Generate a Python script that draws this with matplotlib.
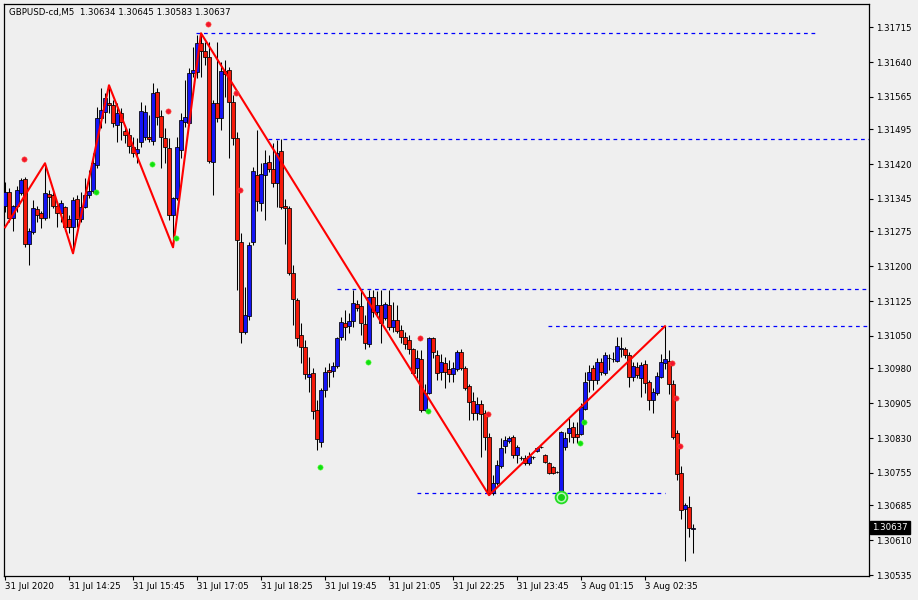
import matplotlib
matplotlib.use("Agg")
import matplotlib.pyplot as plt
import matplotlib.transforms as mtransforms
import numpy as np

# GBPUSD-cd M5 bars
opens = [
    1.31329, 1.31360, 1.31305, 1.31329, 1.31358, 1.31388, 1.31249, 1.31273, 1.31323, 1.31314,
    1.31305, 1.31356, 1.31353, 1.31329, 1.31314, 1.31327, 1.31301, 1.31284, 1.31345, 1.31303,
    1.31327, 1.31353, 1.31362, 1.31418, 1.31519, 1.31532, 1.31551, 1.31547, 1.31504, 1.31530,
    1.31491, 1.31483, 1.31457, 1.31444, 1.31468, 1.31478, 1.31478, 1.31470, 1.31575, 1.31524,
    1.31476, 1.31455, 1.31310, 1.31347, 1.31450, 1.31511, 1.31508, 1.31616, 1.31618, 1.31680,
    1.31663, 1.31650, 1.31425, 1.31551, 1.31519, 1.31620, 1.31622, 1.31554, 1.31476, 1.31252,
    1.31058, 1.31093, 1.31252, 1.31396, 1.31336, 1.31396, 1.31425, 1.31409, 1.31379, 1.31448,
    1.31329, 1.31325, 1.31185, 1.31127, 1.31052, 1.31026, 1.30961, 1.30970, 1.30890, 1.30822,
    1.30933, 1.30976, 1.30974, 1.30985, 1.31047, 1.31078, 1.31071, 1.31082, 1.31118, 1.31114,
    1.31075, 1.31032, 1.31135, 1.31101, 1.31116, 1.31088, 1.31116, 1.31069, 1.31084, 1.31062,
    1.31047, 1.31041, 1.31022, 1.30981, 1.31000, 1.30890, 1.30927, 1.31045, 1.31009, 1.30972,
    1.30991, 1.30979, 1.30968, 1.30979, 1.31016, 1.30981, 1.30942, 1.30910, 1.30884, 1.30903,
    1.30884, 1.30832, 1.30712, 1.30733, 1.30770, 1.30813, 1.30824, 1.30832, 1.30794, 1.30787,
    1.30787, 1.30776, 1.30789, 1.30802, 1.30811, 1.30794, 1.30776, 1.30768, 1.30757, 1.30714,
    1.30811, 1.30841, 1.30854, 1.30839, 1.30839, 1.30893, 1.30955, 1.30981, 1.30955, 1.30993,
    1.30970, 1.31002, 1.31000, 1.30996, 1.31022, 1.31022, 1.31009, 1.30961, 1.30983, 1.30959,
    1.30989, 1.30950, 1.30912, 1.30927, 1.30961, 1.30991, 1.30996, 1.30946, 1.30841, 1.30755,
    1.30677, 1.30681, 1.30634,
]
highs = [
    1.31381, 1.31368, 1.31333, 1.31373, 1.31390, 1.31392, 1.31282, 1.31342, 1.31331, 1.31320,
    1.31422, 1.31364, 1.31360, 1.31338, 1.31342, 1.31331, 1.31310, 1.31349, 1.31353, 1.31360,
    1.31390, 1.31407, 1.31444, 1.31543, 1.31584, 1.31573, 1.31590, 1.31558, 1.31551, 1.31541,
    1.31504, 1.31498, 1.31478, 1.31476, 1.31554, 1.31547, 1.31526, 1.31594, 1.31584, 1.31536,
    1.31498, 1.31476, 1.31349, 1.31478, 1.31530, 1.31601, 1.31627, 1.31672, 1.31698, 1.31702,
    1.31683, 1.31683, 1.31558, 1.31683, 1.31640, 1.31644, 1.31629, 1.31568, 1.31489, 1.31271,
    1.31155, 1.31252, 1.31414, 1.31493, 1.31422, 1.31450, 1.31440, 1.31465, 1.31472, 1.31474,
    1.31345, 1.31329, 1.31202, 1.31131, 1.31078, 1.31041, 1.31004, 1.30981, 1.30912, 1.30937,
    1.30983, 1.30991, 1.30993, 1.31047, 1.31090, 1.31106, 1.31099, 1.31149, 1.31127, 1.31149,
    1.31095, 1.31149, 1.31149, 1.31146, 1.31149, 1.31123, 1.31149, 1.31123, 1.31116, 1.31073,
    1.31058, 1.31052, 1.31024, 1.31019, 1.31019, 1.30946, 1.31047, 1.31047, 1.31019, 1.31012,
    1.31004, 1.30998, 1.30993, 1.31019, 1.31022, 1.30985, 1.30946, 1.30929, 1.30918, 1.30912,
    1.30890, 1.30841, 1.30750, 1.30783, 1.30830, 1.30835, 1.30835, 1.30837, 1.30815, 1.30791,
    1.30794, 1.30800, 1.30791, 1.30811, 1.30813, 1.30796, 1.30778, 1.30770, 1.30759, 1.30845,
    1.30843, 1.30873, 1.30865, 1.30865, 1.30905, 1.30972, 1.30987, 1.30987, 1.31002, 1.31002,
    1.31016, 1.31012, 1.31016, 1.31047, 1.31047, 1.31026, 1.31016, 1.30993, 1.30993, 1.30993,
    1.30998, 1.30955, 1.30937, 1.30972, 1.31012, 1.31071, 1.31019, 1.30955, 1.30847, 1.30770,
    1.30690, 1.30705, 1.30645,
]
lows = [
    1.31316, 1.31295, 1.31277, 1.31316, 1.31353, 1.31241, 1.31202, 1.31269, 1.31295, 1.31282,
    1.31299, 1.31305, 1.31325, 1.31284, 1.31295, 1.31277, 1.31271, 1.31228, 1.31284, 1.31295,
    1.31325, 1.31347, 1.31358, 1.31412, 1.31498, 1.31508, 1.31530, 1.31500, 1.31468, 1.31472,
    1.31465, 1.31444, 1.31435, 1.31422, 1.31457, 1.31472, 1.31468, 1.31461, 1.31504, 1.31412,
    1.31422, 1.31299, 1.31241, 1.31342, 1.31433, 1.31500, 1.31504, 1.31607, 1.31605, 1.31607,
    1.31633, 1.31422, 1.31353, 1.31511, 1.31493, 1.31564, 1.31433, 1.31461, 1.31149, 1.31034,
    1.31054, 1.31084, 1.31247, 1.31320, 1.31320, 1.31299, 1.31403, 1.31371, 1.31327, 1.31323,
    1.31249, 1.31181, 1.31073, 1.31029, 1.30991, 1.30957, 1.30929, 1.30871, 1.30804, 1.30811,
    1.30918, 1.30940, 1.30961, 1.30981, 1.31041, 1.31041, 1.31056, 1.31069, 1.31103, 1.31052,
    1.31022, 1.31026, 1.31090, 1.31090, 1.31034, 1.31084, 1.31062, 1.31058, 1.31056, 1.31034,
    1.31022, 1.31011, 1.30968, 1.30959, 1.30886, 1.30888, 1.30925, 1.31002, 1.30955, 1.30955,
    1.30937, 1.30950, 1.30950, 1.30974, 1.30976, 1.30933, 1.30869, 1.30869, 1.30869, 1.30789,
    1.30804, 1.30707, 1.30707, 1.30729, 1.30766, 1.30798, 1.30819, 1.30787, 1.30776, 1.30783,
    1.30772, 1.30772, 1.30785, 1.30800, 1.30809, 1.30776, 1.30753, 1.30753, 1.30755, 1.30707,
    1.30804, 1.30822, 1.30819, 1.30819, 1.30837, 1.30890, 1.30929, 1.30933, 1.30946, 1.30965,
    1.30965, 1.30976, 1.30993, 1.30993, 1.31004, 1.31002, 1.30940, 1.30953, 1.30959, 1.30918,
    1.30927, 1.30890, 1.30884, 1.30923, 1.30959, 1.30979, 1.30925, 1.30828, 1.30740, 1.30655,
    1.30565, 1.30616, 1.30583,
]
closes = [
    1.31360, 1.31305, 1.31329, 1.31364, 1.31386, 1.31249, 1.31275, 1.31325, 1.31310, 1.31305,
    1.31358, 1.31349, 1.31331, 1.31314, 1.31336, 1.31284, 1.31284, 1.31342, 1.31303, 1.31327,
    1.31353, 1.31362, 1.31422, 1.31519, 1.31536, 1.31562, 1.31547, 1.31508, 1.31530, 1.31511,
    1.31483, 1.31459, 1.31444, 1.31453, 1.31534, 1.31532, 1.31474, 1.31573, 1.31521, 1.31478,
    1.31457, 1.31310, 1.31347, 1.31457, 1.31515, 1.31521, 1.31616, 1.31622, 1.31680, 1.31663,
    1.31650, 1.31427, 1.31551, 1.31519, 1.31620, 1.31614, 1.31554, 1.31476, 1.31256, 1.31058,
    1.31095, 1.31245, 1.31405, 1.31340, 1.31399, 1.31422, 1.31409, 1.31379, 1.31444, 1.31327,
    1.31325, 1.31185, 1.31129, 1.31045, 1.31026, 1.30968, 1.30968, 1.30888, 1.30828, 1.30933,
    1.30972, 1.30972, 1.30985, 1.31045, 1.31080, 1.31069, 1.31082, 1.31121, 1.31110, 1.31078,
    1.31034, 1.31135, 1.31101, 1.31116, 1.31078, 1.31118, 1.31069, 1.31084, 1.31060, 1.31047,
    1.31032, 1.31022, 1.30970, 1.31002, 1.30890, 1.30927, 1.31045, 1.31016, 1.30970, 1.30993,
    1.30972, 1.30968, 1.30981, 1.31016, 1.30981, 1.30937, 1.30908, 1.30884, 1.30903, 1.30882,
    1.30832, 1.30712, 1.30733, 1.30772, 1.30809, 1.30826, 1.30830, 1.30794, 1.30811, 1.30787,
    1.30776, 1.30791, 1.30789, 1.30809, 1.30811, 1.30778, 1.30755, 1.30755, 1.30757, 1.30843,
    1.30830, 1.30852, 1.30832, 1.30832, 1.30897, 1.30950, 1.30972, 1.30955, 1.30993, 1.30972,
    1.31009, 1.31002, 1.31000, 1.31028, 1.31024, 1.31009, 1.30961, 1.30985, 1.30965, 1.30987,
    1.30948, 1.30912, 1.30929, 1.30963, 1.30993, 1.31000, 1.30946, 1.30832, 1.30753, 1.30675,
    1.30685, 1.30636, 1.30637,
]

# zigzag turning points (bar, price)
zz_bars = [0, 10, 17, 26, 42, 49, 121, 165]
zz_prices = [1.31284, 1.31422, 1.31228, 1.31590, 1.31241, 1.31702, 1.30707, 1.31071]

# horizontal levels: price, first bar, last bar
level_prices = [1.31702, 1.31474, 1.31151, 1.31071, 1.30712]
level_start = [47.75, 65.75, 83, 135.75, 103]
level_end = [202.5, 216, 216, 216, 165]

# signal dots
red_bars = [5, 41, 51, 58, 59, 104, 121, 167, 168, 169]
red_prices = [1.31431, 1.31534, 1.31721, 1.31573, 1.31364, 1.31045, 1.30882, 1.30991, 1.30916, 1.30813]
green_bars = [23, 37, 43, 79, 91, 106, 144, 145]
green_prices = [1.31360, 1.31420, 1.31261, 1.30768, 1.30994, 1.30888, 1.30819, 1.30864]
circle_bar = 139
circle_price = 1.30703

price_ticks = [1.31715, 1.31640, 1.31565, 1.31495, 1.31420, 1.31345, 1.31275, 1.31200, 1.31125,
               1.31050, 1.30980, 1.30905, 1.30830, 1.30755, 1.30685, 1.30610, 1.30535]
time_bars = [0, 16, 32, 48, 64, 80, 96, 112, 128, 144, 160]
time_labels = ["31 Jul 2020", "31 Jul 14:25", "31 Jul 15:45", "31 Jul 17:05", "31 Jul 18:25",
               "31 Jul 19:45", "31 Jul 21:05", "31 Jul 22:25", "31 Jul 23:45", "3 Aug 01:15",
               "3 Aug 02:35"]
last_price = 1.30637

o = np.array(opens); h = np.array(highs); l = np.array(lows); c = np.array(closes)
x = np.arange(len(o))
up = c >= o

fig = plt.figure(figsize=(9.18, 6.0), dpi=100, facecolor="#f0f0f0")
ax = fig.add_axes([4/918, 24/600, 865/918, 572/600], facecolor="#efefef")

# wicks + bodies
ax.vlines(x, l, h, color="black", lw=0.75, zorder=2)
bottoms = np.minimum(o, c)
heights = np.abs(c - o)
ax.bar(x[up], heights[up], bottom=bottoms[up], width=0.78, color="#1414f5",
       edgecolor="black", linewidth=0.55, zorder=3)
ax.bar(x[~up], heights[~up], bottom=bottoms[~up], width=0.78, color="#f51a0a",
       edgecolor="black", linewidth=0.55, zorder=3)

# zigzag
ax.plot(zz_bars, zz_prices, color="#ff0000", lw=1.5, zorder=4)

# levels
for p, s, e in zip(level_prices, level_start, level_end):
    ax.plot([s, e], [p, p], color="#0000ff", lw=0.9, dashes=(3, 3), zorder=1)

# dots
ax.plot(np.array(red_bars) - 0.25, red_prices, "o", color="#f2142e", ms=3.8, mec="#ff5a3c",
        mew=0.4, zorder=5)
ax.plot(np.array(green_bars) - 0.25, green_prices, "o", color="#10e010", ms=3.8, mec="#60ff40",
        mew=0.4, zorder=5)
ax.plot(circle_bar, circle_price, "o", ms=8.5, mfc="#b8f5b8", mec="#22dd22", mew=1.3, zorder=5)
ax.plot(circle_bar, circle_price, "o", ms=4, color="#16d016", zorder=6)

ax.set_xlim(-0.25, 216)
ax.set_ylim(1.30533, 1.31765)

# axes styling
for sp in ax.spines.values():
    sp.set_color("black")
    sp.set_linewidth(0.9)
ax.yaxis.tick_right()
ax.set_yticks(price_ticks)
ax.set_yticklabels([f"{p:.5f}" for p in price_ticks])
ax.tick_params(axis="y", length=3, width=0.8, pad=2.2, labelsize=6.2, colors="black")
ax.set_xticks(time_bars)
ax.set_xticklabels(time_labels, ha="left")
ax.tick_params(axis="x", length=3, width=0.8, pad=1.5, labelsize=6.2, colors="black")

# symbol header
ax.text(0.006, 0.986, "GBPUSD-cd,M5  1.30634 1.30645 1.30583 1.30637", transform=ax.transAxes,
        fontsize=6.2, ha="left", va="center", color="black")

# current price tag
trans = mtransforms.blended_transform_factory(ax.transAxes, ax.transData)
ax.text(1.0035, last_price, f"{last_price:.5f}", transform=trans, fontsize=6.2, color="white",
        ha="left", va="center", clip_on=False,
        bbox=dict(boxstyle="square,pad=0.25", fc="black", ec="black"))

fig.savefig("out.png", dpi=100, facecolor=fig.get_facecolor())
